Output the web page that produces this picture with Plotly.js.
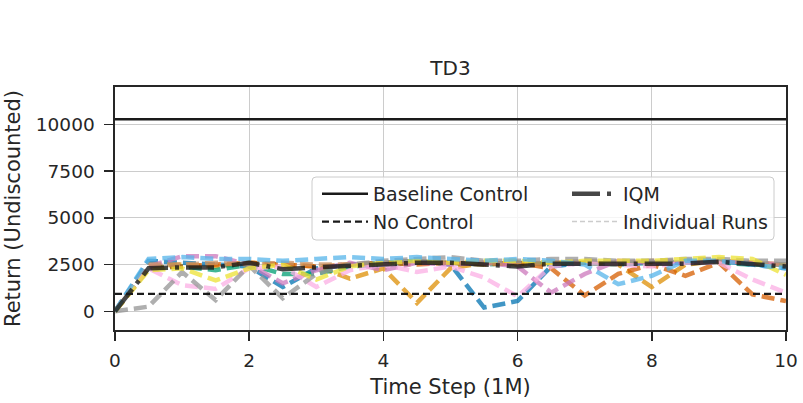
<!DOCTYPE html>
<html>
<head>
<meta charset="utf-8">
<script src="https://cdn.plot.ly/plotly-3.0.1.min.js"></script>
<style>html,body{margin:0;padding:0;background:#fff;}#chart{width:803px;height:403px;}</style>
</head>
<body>
<div id="chart"></div>
<script>
// Time steps (millions)
const timeSteps = [0, 0.5, 1, 1.5, 2, 2.5, 3, 3.5, 4, 4.5, 5, 5.5, 6, 6.5, 7, 7.5, 8, 8.5, 9, 9.5, 10];

// Reference levels
const baselineControl = 10270;
const noControl = 930;

// Individual runs
const run1  = [0, 2700, 2600, 2500, 2400, 1300, 2300, 2500, 2600, 2700, 2500, 200, 550, 2400, 2600, 2500, 2600, 2600, 2700, 2500, 2300];
const run2  = [0, 2400, 2500, 2400, 2600, 2500, 2400, 1750, 2300, 450, 2300, 2600, 2500, 2600, 2600, 2500, 1300, 2500, 2700, 2600, 2500];
const run3  = [0, 2300, 2400, 2200, 2500, 2000, 2000, 2400, 2500, 2600, 2600, 2500, 2600, 2500, 2600, 2500, 2600, 2600, 2600, 2500, 2500];
const run4  = [0, 2300, 2400, 2500, 2600, 2500, 2400, 2500, 2600, 2500, 2600, 2500, 2600, 2300, 850, 2000, 2500, 1900, 2600, 900, 550];
const run5  = [0, 2400, 2950, 2950, 2500, 1500, 2200, 2600, 2200, 2600, 2500, 2600, 2400, 1000, 2000, 2700, 2600, 2600, 2700, 2600, 2500];
const run6  = [0, 2500, 2500, 2600, 2500, 2600, 2500, 2500, 2600, 2700, 2600, 2600, 2500, 2600, 2700, 2600, 2700, 2700, 2700, 2600, 2500];
const run7  = [0, 2300, 1400, 1200, 2300, 2400, 1300, 2200, 2500, 2100, 2400, 1800, 800, 2400, 2600, 2500, 2400, 2600, 2600, 1700, 1000];
const run8  = [0, 250, 2100, 600, 2450, 700, 2000, 2500, 2700, 2800, 2900, 2700, 2700, 2800, 2800, 2700, 2700, 2800, 2800, 2700, 2700];
const run9  = [0, 2200, 2300, 1650, 2300, 2500, 1700, 2400, 2600, 2700, 2600, 2700, 2700, 2600, 2700, 2700, 2700, 2800, 2900, 2800, 1950];
const run10 = [0, 2800, 2900, 2800, 2800, 2700, 2800, 2900, 2800, 2900, 2800, 2700, 2800, 2700, 2500, 1450, 1900, 2700, 2700, 2500, 2300];
const runs = [run1, run2, run3, run4, run5, run6, run7, run8, run9, run10];

// Interquartile mean
const iqm = [0, 2300, 2350, 2350, 2600, 2250, 2350, 2450, 2500, 2600, 2600, 2500, 2400, 2550, 2550, 2500, 2500, 2550, 2650, 2500, 2400];

// Labels
const chartTitle = 'TD3';
const xTitle = 'Time Step (1M)';
const yTitle = 'Return (Undiscounted)';
const xTicks = [0, 2, 4, 6, 8, 10];
const yTicks = [0, 2500, 5000, 7500, 10000];
const legendNames = ['Baseline Control', 'No Control', 'IQM', 'Individual Runs'];

const runColors = ['#0173b2', '#de8f05', '#029e73', '#d55e00', '#cc78bc', '#ca9161', '#fbafe4', '#949494', '#ece133', '#56b4e9'];

const traces = [];
runs.forEach((r, i) => {
  traces.push({
    x: timeSteps, y: r, type: 'scatter', mode: 'lines',
    line: {color: runColors[i], width: 4.5, dash: '13px,6px'},
    opacity: 0.75, showlegend: false, hoverinfo: 'skip'
  });
});
traces.push({
  x: [timeSteps[0], timeSteps[timeSteps.length - 1]], y: [baselineControl, baselineControl],
  type: 'scatter', mode: 'lines', name: legendNames[0],
  line: {color: '#1a1a1a', width: 2.5}, legend: 'legend'
});
traces.push({
  x: [timeSteps[0], timeSteps[timeSteps.length - 1]], y: [noControl, noControl],
  type: 'scatter', mode: 'lines', name: legendNames[1],
  line: {color: '#1a1a1a', width: 2.2, dash: '7px,4px'}, legend: 'legend'
});
traces.push({
  x: timeSteps, y: iqm, type: 'scatter', mode: 'lines', name: legendNames[2],
  line: {color: 'rgba(25,25,25,0.8)', width: 4.5, dash: '28px,7px,4px,7px'}, legend: 'legend2'
});
traces.push({
  x: [null], y: [null], type: 'scatter', mode: 'lines', name: legendNames[3], showlegend: true,
  line: {color: '#cccccc', width: 1.5, dash: '5px,3px'}, legend: 'legend2'
});

// legend frame (rounded) in paper coords
const plotW = 803 - 115 - 17, plotH = 403 - 87 - 73;
function px2paperX(px) { return (px - 115) / plotW; }
function px2paperY(py) { return (330 - py) / plotH; }
const bx0 = 312, bx1 = 774, by0 = 177, by1 = 240, rr = 4;
const X = px2paperX, Y = px2paperY;
const framePath = `M ${X(bx0 + rr)} ${Y(by0)} L ${X(bx1 - rr)} ${Y(by0)} Q ${X(bx1)} ${Y(by0)} ${X(bx1)} ${Y(by0 + rr)} ` +
  `L ${X(bx1)} ${Y(by1 - rr)} Q ${X(bx1)} ${Y(by1)} ${X(bx1 - rr)} ${Y(by1)} L ${X(bx0 + rr)} ${Y(by1)} ` +
  `Q ${X(bx0)} ${Y(by1)} ${X(bx0)} ${Y(by1 - rr)} L ${X(bx0)} ${Y(by0 + rr)} Q ${X(bx0)} ${Y(by0)} ${X(bx0 + rr)} ${Y(by0)} Z`;

const fontFam = 'DejaVu Sans, sans-serif';
const txtColor = '#262626';
const axisCommon = {
  showgrid: true, gridcolor: '#cccccc', gridwidth: 1.1,
  zeroline: false, showline: true, linecolor: '#262626', linewidth: 1.6, mirror: true,
  ticks: 'outside', ticklen: 9, tickwidth: 1.5, tickcolor: '#262626',
  tickfont: {family: fontFam, size: 18.5, color: txtColor}
};

const legendCommon = {xanchor: 'left', yanchor: 'top', bgcolor: 'rgba(0,0,0,0)', borderwidth: 0, itemwidth: 46,
  font: {family: fontFam, size: 19, color: txtColor}, tracegroupgap: 0};

const layout = {
  width: 803, height: 403,
  margin: {l: 115, r: 17, t: 87, b: 73},
  paper_bgcolor: '#ffffff', plot_bgcolor: '#ffffff',
  font: {family: fontFam, color: txtColor},
  title: {text: chartTitle, font: {family: fontFam, size: 20, color: txtColor},
          x: 0.5, xref: 'paper', xanchor: 'center', y: 1 - 68 / 403, yref: 'container', yanchor: 'middle'},
  xaxis: Object.assign({}, axisCommon, {
    range: [0, 10], tickvals: xTicks, ticktext: xTicks.map(String), ticklabelstandoff: 4,
    title: {text: xTitle, font: {family: fontFam, size: 21, color: txtColor}, standoff: 9}
  }),
  yaxis: Object.assign({}, axisCommon, {
    range: [-1000, 12000], tickvals: yTicks, ticktext: yTicks.map(String), ticklabelstandoff: 6,
    title: {text: yTitle, font: {family: fontFam, size: 21, color: txtColor}, standoff: 9}
  }),
  showlegend: true,
  legend: Object.assign({}, legendCommon, {x: px2paperX(317), y: px2paperY(175)}),
  legend2: Object.assign({}, legendCommon, {x: px2paperX(567), y: px2paperY(175)}),
  shapes: [{type: 'path', xref: 'paper', yref: 'paper', path: framePath,
            fillcolor: 'rgba(255,255,255,0.8)', line: {color: '#cccccc', width: 1}, layer: 'above'}]
};

Plotly.newPlot('chart', traces, layout, {displayModeBar: false, staticPlot: true});
</script>
</body>
</html>
